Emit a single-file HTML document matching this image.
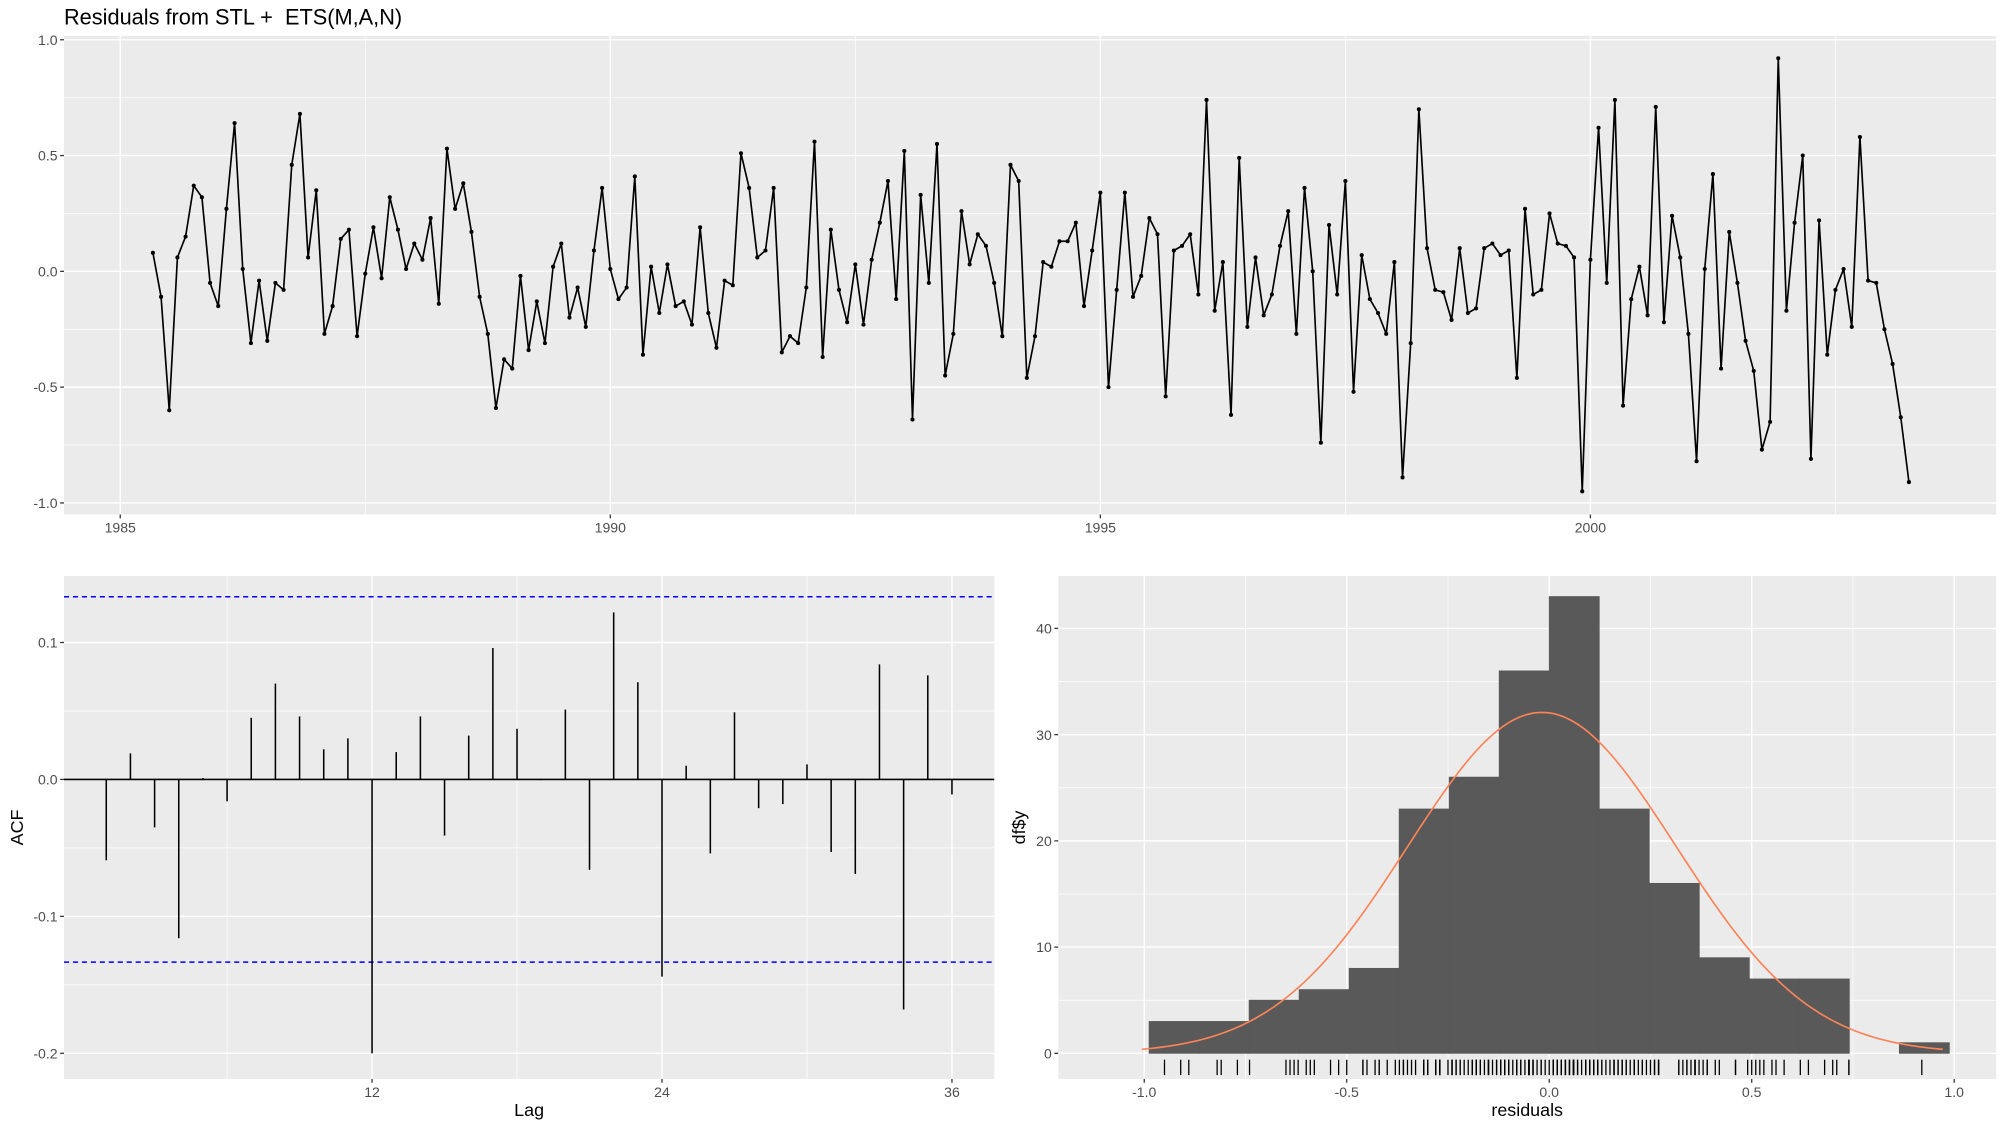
<!DOCTYPE html>
<html><head><meta charset="utf-8"><style>
html,body{margin:0;padding:0;background:#fff;}
svg{display:block;font-family:"Liberation Sans",sans-serif;}
</style></head><body>
<svg id="chart" width="2000" height="1125" viewBox="0 0 1563 879" preserveAspectRatio="none" xmlns="http://www.w3.org/2000/svg">
<text x="50" y="19" font-size="17" fill="#000">Residuals from STL + &#160;ETS(M,A,N)</text>
<g id="top"></g>
<g id="acf"></g>
<g id="hist"></g>
</svg>
<script>
// ---- data ----
const startTime = 1985 + 4/12;
const residuals = [
0.08,-0.11,-0.60,0.06,0.15,0.37,0.32,-0.05,-0.15,0.27,0.64,0.01,-0.31,-0.04,-0.30,-0.05,-0.08,0.46,0.68,0.06,0.35,-0.27,-0.15,0.14,0.18,-0.28,-0.01,0.19,-0.03,0.32,0.18,0.01,0.12,0.05,0.23,-0.14,0.53,
0.27,0.38,0.17,-0.11,-0.27,-0.59,-0.38,-0.42,-0.02,-0.34,-0.13,-0.31,0.02,0.12,-0.20,-0.07,-0.24,0.09,0.36,0.01,-0.12,-0.07,0.41,-0.36,0.02,-0.18,0.03,-0.15,-0.13,-0.23,0.19,-0.18,-0.33,-0.04,-0.06,0.51,
0.36,0.06,0.09,0.36,-0.35,-0.28,-0.31,-0.07,0.56,-0.37,0.18,-0.08,-0.22,0.03,-0.23,0.05,0.21,0.39,-0.12,0.52,-0.64,0.33,-0.05,0.55,-0.45,-0.27,0.26,0.03,0.16,0.11,-0.05,-0.28,0.46,0.39,-0.46,-0.28,0.04,
0.02,0.13,0.13,0.21,-0.15,0.09,0.34,-0.50,-0.08,0.34,-0.11,-0.02,0.23,0.16,-0.54,0.09,0.11,0.16,-0.10,0.74,-0.17,0.04,-0.62,0.49,-0.24,0.06,-0.19,-0.10,0.11,0.26,-0.27,0.36,0.00,-0.74,0.20,-0.10,0.39,
-0.52,0.07,-0.12,-0.18,-0.27,0.04,-0.89,-0.31,0.70,0.10,-0.08,-0.09,-0.21,0.10,-0.18,-0.16,0.10,0.12,0.07,0.09,-0.46,0.27,-0.10,-0.08,0.25,0.12,0.11,0.06,-0.95,0.05,0.62,-0.05,0.74,-0.58,-0.12,0.02,
-0.19,0.71,-0.22,0.24,0.06,-0.27,-0.82,0.01,0.42,-0.42,0.17,-0.05,-0.30,-0.43,-0.77,-0.65,0.92,-0.17,0.21,0.50,-0.81,0.22,-0.36,-0.08,0.01,-0.24,0.58,-0.04,-0.05,-0.25,-0.40,-0.63,-0.91];
const topXTicks = [1985,1990,1995,2000];
const topYTicks = [-1.0,-0.5,0.0,0.5,1.0];
const topYLabels = ["-1.0","-0.5","0.0","0.5","1.0"];
const acfLags = [1,2,3,4,5,6,7,8,9,10,11,12,13,14,15,16,17,18,19,20,21,22,23,24,25,26,27,28,29,30,31,32,33,34,35,36];
const acfValues = [-0.059,0.019,-0.035,-0.116,0.001,-0.016,0.045,0.070,0.046,0.022,0.030,-0.200,0.020,0.046,-0.041,0.032,0.096,0.037,-0.0005,0.051,-0.066,0.122,0.071,-0.144,0.010,-0.054,0.049,-0.021,-0.018,0.011,-0.053,-0.069,0.084,-0.168,0.076,-0.011];
const acfCI = 0.1334;
const acfXTicks = [12,24,36];
const acfYTicks = [-0.2,-0.1,0.0,0.1];
const histBinStart = -0.988;
const histBinWidth = 0.1235;
const histCounts = [3,3,5,6,8,23,26,36,43,23,16,9,7,7,0,1];
const histXTicks = [-1.0,-0.5,0.0,0.5,1.0];
const histXLabels = ["-1.0","-0.5","0.0","0.5","1.0"];
const histYTicks = [0,10,20,30,40];
const curveRange = [-1.006, 0.972];

const NS = "http://www.w3.org/2000/svg";
function mk(parent, tag, attrs){ const e=document.createElementNS(NS,tag); for(const k in attrs) e.setAttribute(k,attrs[k]); parent.appendChild(e); return e; }
function txt(parent, s, attrs){ const e=mk(parent,'text',attrs); e.textContent=s; return e; }
const TICKC="#333333", LABC="#4D4D4D";

// ---- top panel ----
(function(){
  const g=document.getElementById('top');
  const L=50,R=1560,T=28,B=402;
  const x0=1984.426,x1=2004.14,y0=-1.05,y1=1.017;
  const sx=v=>L+(v-x0)/(x1-x0)*(R-L), sy=v=>B-(v-y0)/(y1-y0)*(B-T);
  const bg=mk(g,'rect',{x:L,y:T,width:R-L,height:B-T,fill:'#EBEBEB'});
   
  for(let v=-0.75;v<=0.76;v+=0.5) mk(g,'line',{x1:L,x2:R,y1:sy(v),y2:sy(v),stroke:'#fff','stroke-width':0.55});
  for(let v=1987.5;v<2004;v+=5) mk(g,'line',{x1:sx(v),x2:sx(v),y1:T,y2:B,stroke:'#fff','stroke-width':0.55});
  topYTicks.forEach((v,i)=>{
    mk(g,'line',{x1:L,x2:R,y1:sy(v),y2:sy(v),stroke:'#fff','stroke-width':1.1});
    mk(g,'line',{x1:L-3,x2:L,y1:sy(v),y2:sy(v),stroke:TICKC,'stroke-width':1});
    const t=txt(g,topYLabels[i],{x:L-5,y:sy(v)+4,'font-size':11,fill:LABC,'text-anchor':'end'});
     
  });
  topXTicks.forEach(v=>{
    mk(g,'line',{x1:sx(v),x2:sx(v),y1:T,y2:B,stroke:'#fff','stroke-width':1.1});
    mk(g,'line',{x1:sx(v),x2:sx(v),y1:B,y2:B+3,stroke:TICKC,'stroke-width':1});
    const t=txt(g,String(v),{x:sx(v),y:B+14,'font-size':11,fill:LABC,'text-anchor':'middle'});
     
  });
  const pts=residuals.map((v,i)=>sx(startTime+i/12).toFixed(2)+','+sy(v).toFixed(2)).join(' ');
  const line=mk(g,'polyline',{points:pts,fill:'none',stroke:'#000','stroke-width':1.3,'stroke-linejoin':'round'});
   
  residuals.forEach((v,i)=>{
    const c=mk(g,'circle',{cx:sx(startTime+i/12),cy:sy(v),r:1.6,fill:'#000'});
     
  });
})();

// ---- ACF panel ----
(function(){
  const g=document.getElementById('acf');
  const L=50,R=777,T=450,B=843;
  const x0=-0.75,x1=37.75,y0=-0.2187,y1=0.1486;
  const sx=v=>L+(v-x0)/(x1-x0)*(R-L), sy=v=>B-(v-y0)/(y1-y0)*(B-T);
  const bg=mk(g,'rect',{x:L,y:T,width:R-L,height:B-T,fill:'#EBEBEB'});
   
  [-0.15,-0.05,0.05].forEach(v=>mk(g,'line',{x1:L,x2:R,y1:sy(v),y2:sy(v),stroke:'#fff','stroke-width':0.55}));
  [6,18,30].forEach(v=>mk(g,'line',{x1:sx(v),x2:sx(v),y1:T,y2:B,stroke:'#fff','stroke-width':0.55}));
  acfYTicks.forEach(v=>{
    mk(g,'line',{x1:L,x2:R,y1:sy(v),y2:sy(v),stroke:'#fff','stroke-width':1.1});
    mk(g,'line',{x1:L-3,x2:L,y1:sy(v),y2:sy(v),stroke:TICKC,'stroke-width':1});
    const t=txt(g,v.toFixed(1),{x:L-5,y:sy(v)+4,'font-size':11,fill:LABC,'text-anchor':'end'});
     
  });
  acfXTicks.forEach(v=>{
    mk(g,'line',{x1:sx(v),x2:sx(v),y1:T,y2:B,stroke:'#fff','stroke-width':1.1});
    mk(g,'line',{x1:sx(v),x2:sx(v),y1:B,y2:B+3,stroke:TICKC,'stroke-width':1});
    const t=txt(g,String(v),{x:sx(v),y:B+14,'font-size':11,fill:LABC,'text-anchor':'middle'});
     
  });
  [acfCI,-acfCI].forEach(v=>{
    const l=mk(g,'line',{x1:L,x2:R,y1:sy(v),y2:sy(v),stroke:'#0000FF','stroke-width':1.2,'stroke-dasharray':'4,3'});
     
  });
  const z=mk(g,'line',{x1:L,x2:R,y1:sy(0),y2:sy(0),stroke:'#000','stroke-width':1.3});
   
  acfLags.forEach((lag,i)=>{
    const l=mk(g,'line',{x1:sx(lag),x2:sx(lag),y1:sy(0),y2:sy(acfValues[i]),stroke:'#000','stroke-width':1.2});
     
  });
  const a=txt(g,'ACF',{x:0,y:0,'font-size':14,fill:'#000','text-anchor':'middle',transform:'translate(18,'+((T+B)/2)+') rotate(-90)'});
   
  const b=txt(g,'Lag',{x:(L+R)/2,y:872,'font-size':14,fill:'#000','text-anchor':'middle'});
   
})();

// ---- histogram panel ----
(function(){
  const g=document.getElementById('hist');
  const L=827,R=1560,T=450,B=843;
  const x0=-1.2124,x1=1.1036,y0=-2.41,y1=44.94;
  const sx=v=>L+(v-x0)/(x1-x0)*(R-L), sy=v=>B-(v-y0)/(y1-y0)*(B-T);
  const bg=mk(g,'rect',{x:L,y:T,width:R-L,height:B-T,fill:'#EBEBEB'});
   
  [5,15,25,35].forEach(v=>mk(g,'line',{x1:L,x2:R,y1:sy(v),y2:sy(v),stroke:'#fff','stroke-width':0.55}));
  [-0.75,-0.25,0.25,0.75].forEach(v=>mk(g,'line',{x1:sx(v),x2:sx(v),y1:T,y2:B,stroke:'#fff','stroke-width':0.55}));
  histYTicks.forEach(v=>{
    mk(g,'line',{x1:L,x2:R,y1:sy(v),y2:sy(v),stroke:'#fff','stroke-width':1.1});
    mk(g,'line',{x1:L-3,x2:L,y1:sy(v),y2:sy(v),stroke:TICKC,'stroke-width':1});
    const t=txt(g,String(v),{x:L-5,y:sy(v)+4,'font-size':11,fill:LABC,'text-anchor':'end'});
     
  });
  histXTicks.forEach((v,i)=>{
    mk(g,'line',{x1:sx(v),x2:sx(v),y1:T,y2:B,stroke:'#fff','stroke-width':1.1});
    mk(g,'line',{x1:sx(v),x2:sx(v),y1:B,y2:B+3,stroke:TICKC,'stroke-width':1});
    const t=txt(g,histXLabels[i],{x:sx(v),y:B+14,'font-size':11,fill:LABC,'text-anchor':'middle'});
     
  });
  histCounts.forEach((c,i)=>{
    if(c<=0) return;
    const a=histBinStart+i*histBinWidth, b=a+histBinWidth;
    const r=mk(g,'rect',{x:sx(a),y:sy(c),width:sx(b)-sx(a),height:sy(0)-sy(c),fill:'#595959',stroke:'#595959','stroke-width':0.6});
     
  });
  const n=residuals.length;
  const mean=residuals.reduce((s,v)=>s+v,0)/n;
  const sd=Math.sqrt(residuals.reduce((s,v)=>s+(v-mean)*(v-mean),0)/(n-1));
  const lo=curveRange[0], hi=curveRange[1];
  let d='';
  for(let k=0;k<=200;k++){
    const x=lo+(hi-lo)*k/200;
    const y=n*histBinWidth*Math.exp(-0.5*((x-mean)/sd)**2)/(sd*Math.sqrt(2*Math.PI));
    d+=(k?'L':'M')+sx(x).toFixed(2)+','+sy(y).toFixed(2);
  }
  const p=mk(g,'path',{d:d,fill:'none',stroke:'#FA8458','stroke-width':1.3});
   
  residuals.forEach(v=>{
    const l=mk(g,'line',{x1:sx(v),x2:sx(v),y1:828,y2:840,stroke:'#000','stroke-width':1});
     
  });
  const a=txt(g,'df$y',{x:0,y:0,'font-size':14,fill:'#000','text-anchor':'middle',transform:'translate(801,'+((T+B)/2)+') rotate(-90)'});
   
  const b=txt(g,'residuals',{x:(L+R)/2,y:872,'font-size':14,fill:'#000','text-anchor':'middle'});
   
})();
</script>
</body></html>
